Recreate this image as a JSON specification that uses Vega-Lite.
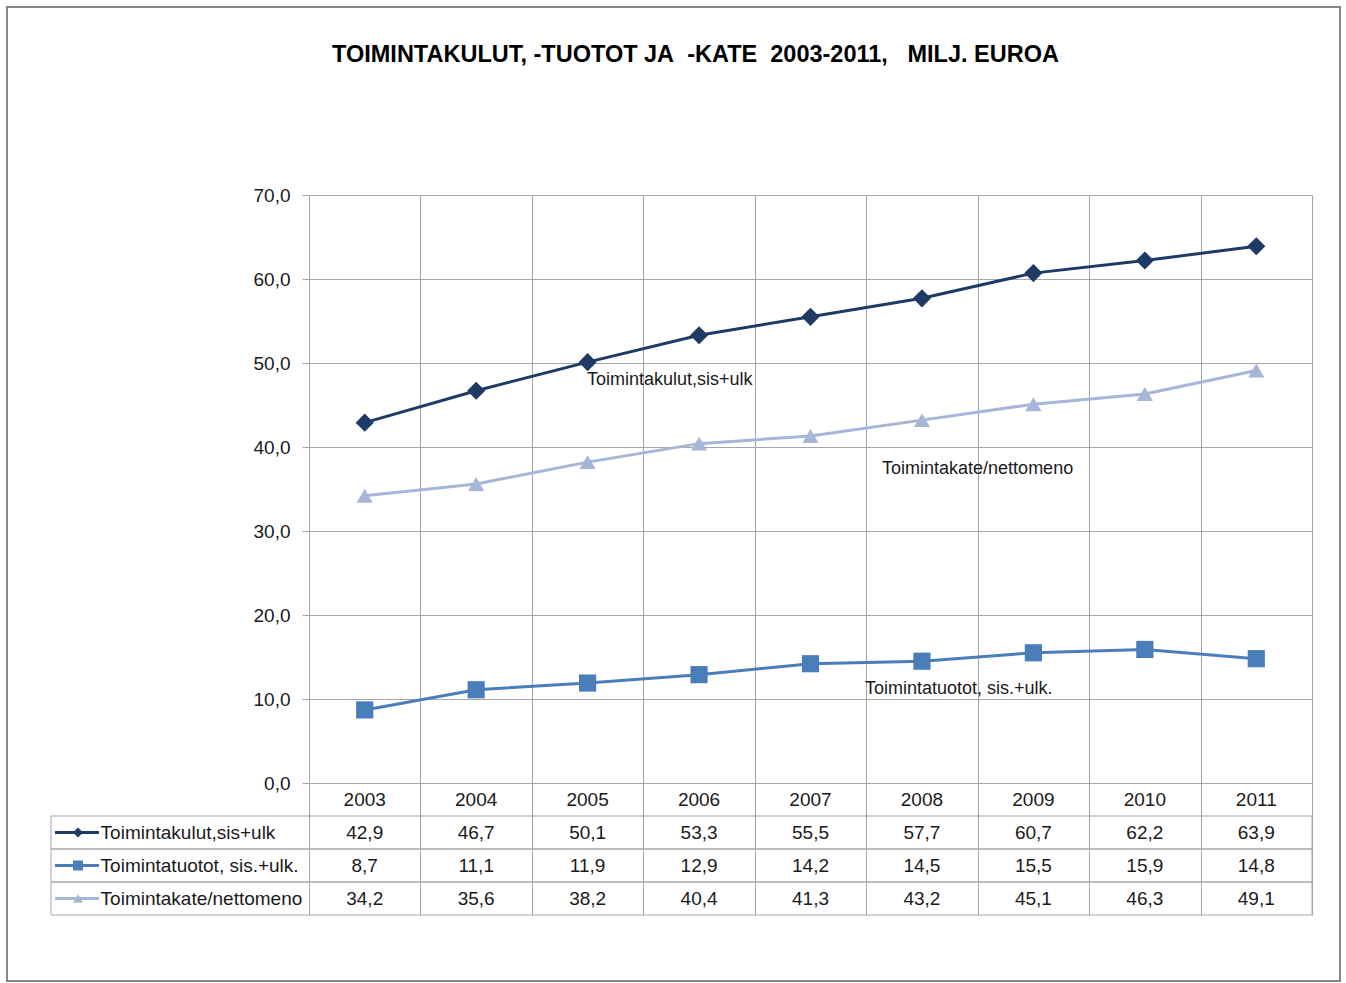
{
  "$schema": "https://vega.github.io/schema/vega-lite/v6.json",
  "padding": {"left": 5, "top": 5, "right": 0, "bottom": 0},
  "title": {
    "text": "TOIMINTAKULUT, -TUOTOT JA\u00a0 -KATE\u00a0 2003-2011,\u00a0\u00a0 MILJ. EUROA",
    "font": "Liberation Sans",
    "fontSize": 23.5,
    "fontWeight": "bold",
    "color": "#000000",
    "anchor": "middle",
    "offset": -61,
    "dx": 22
  },
  "datasets": {
    "main": [
      {"series": "Toimintakulut,sis+ulk", "year": 2003, "value": 42.9},
      {"series": "Toimintakulut,sis+ulk", "year": 2004, "value": 46.7},
      {"series": "Toimintakulut,sis+ulk", "year": 2005, "value": 50.1},
      {"series": "Toimintakulut,sis+ulk", "year": 2006, "value": 53.3},
      {"series": "Toimintakulut,sis+ulk", "year": 2007, "value": 55.5},
      {"series": "Toimintakulut,sis+ulk", "year": 2008, "value": 57.7},
      {"series": "Toimintakulut,sis+ulk", "year": 2009, "value": 60.7},
      {"series": "Toimintakulut,sis+ulk", "year": 2010, "value": 62.2},
      {"series": "Toimintakulut,sis+ulk", "year": 2011, "value": 63.9},
      {"series": "Toimintatuotot, sis.+ulk.", "year": 2003, "value": 8.7},
      {"series": "Toimintatuotot, sis.+ulk.", "year": 2004, "value": 11.1},
      {"series": "Toimintatuotot, sis.+ulk.", "year": 2005, "value": 11.9},
      {"series": "Toimintatuotot, sis.+ulk.", "year": 2006, "value": 12.9},
      {"series": "Toimintatuotot, sis.+ulk.", "year": 2007, "value": 14.2},
      {"series": "Toimintatuotot, sis.+ulk.", "year": 2008, "value": 14.5},
      {"series": "Toimintatuotot, sis.+ulk.", "year": 2009, "value": 15.5},
      {"series": "Toimintatuotot, sis.+ulk.", "year": 2010, "value": 15.9},
      {"series": "Toimintatuotot, sis.+ulk.", "year": 2011, "value": 14.8},
      {"series": "Toimintakate/nettomeno", "year": 2003, "value": 34.2},
      {"series": "Toimintakate/nettomeno", "year": 2004, "value": 35.6},
      {"series": "Toimintakate/nettomeno", "year": 2005, "value": 38.2},
      {"series": "Toimintakate/nettomeno", "year": 2006, "value": 40.4},
      {"series": "Toimintakate/nettomeno", "year": 2007, "value": 41.3},
      {"series": "Toimintakate/nettomeno", "year": 2008, "value": 43.2},
      {"series": "Toimintakate/nettomeno", "year": 2009, "value": 45.1},
      {"series": "Toimintakate/nettomeno", "year": 2010, "value": 46.3},
      {"series": "Toimintakate/nettomeno", "year": 2011, "value": 49.1}
    ],
    "legend": [
      {"series": "Toimintakulut,sis+ulk"},
      {"series": "Toimintatuotot, sis.+ulk."},
      {"series": "Toimintakate/nettomeno"}
    ],
    "notes": [
      {"note": "Toimintakulut,sis+ulk", "year": 2004.995, "value": 47.98},
      {"note": "Toimintakate/nettomeno", "year": 2007.642, "value": 37.38},
      {"note": "Toimintatuotot, sis.+ulk.", "year": 2007.489, "value": 11.19}
    ]
  },
  "spacing": 0,
  "bounds": "flush",
  "config": {
    "view": {"stroke": null},
    "font": "Liberation Sans",
    "locale": {"number": {"decimal": ",", "thousands": "\u00a0", "grouping": [3], "currency": ["", "\u00a0€"]}},
    "axis": {"gridColor": "#A6A6A6", "gridOpacity": 1, "gridWidth": 1, "tickColor": "#A6A6A6"}
  },
  "vconcat": [
    {
      "width": 1003,
      "height": 588,
      "layer": [
        {
          "data": {"values": [{"frame": 1}]},
          "mark": {"type": "rect", "fill": "transparent", "stroke": "#868686", "strokeWidth": 2},
          "encoding": {
            "x": {"datum": 1999.79, "type": "quantitative", "scale": {"domain": [2002.5, 2011.5], "nice": false, "zero": false}},
            "x2": {"datum": 2011.751},
            "y": {"datum": 92.381, "type": "quantitative", "scale": {"domain": [0, 70], "nice": false, "zero": false}},
            "y2": {"datum": -23.571}
          }
        },
        {
          "data": {"name": "main"},
          "mark": {"type": "line", "strokeWidth": 3},
          "encoding": {
            "x": {"field": "year", "type": "quantitative", "scale": {"domain": [2002.5, 2011.5], "nice": false, "zero": false},
              "axis": {"values": [2002.5, 2003.5, 2004.5, 2005.5, 2006.5, 2007.5, 2008.5, 2009.5, 2010.5, 2011.5], "grid": true, "labels": false, "ticks": false, "domain": false, "title": null}},
            "y": {"field": "value", "type": "quantitative", "scale": {"domain": [0, 70], "nice": false, "zero": false},
              "axis": {"values": [0, 10, 20, 30, 40, 50, 60, 70], "format": ".1f", "grid": true, "tickSize": 7, "domain": false, "labelFontSize": 19, "labelPadding": 12, "labelColor": "#1a1a1a", "title": null}},
            "color": {"field": "series", "type": "nominal", "scale": {"domain": ["Toimintakulut,sis+ulk", "Toimintatuotot, sis.+ulk.", "Toimintakate/nettomeno"], "range": ["#1F3A64", "#4A7EBB", "#A5B6D9"]}, "legend": null}
          }
        },
        {
          "data": {"name": "main"},
          "mark": {"type": "point", "filled": true, "opacity": 1},
          "encoding": {
            "x": {"field": "year", "type": "quantitative", "scale": {"domain": [2002.5, 2011.5], "nice": false, "zero": false}},
            "y": {"field": "value", "type": "quantitative", "scale": {"domain": [0, 70], "nice": false, "zero": false}},
            "color": {"field": "series", "type": "nominal", "legend": null},
            "shape": {"field": "series", "type": "nominal", "scale": {"domain": ["Toimintakulut,sis+ulk", "Toimintatuotot, sis.+ulk.", "Toimintakate/nettomeno"], "range": ["diamond", "square", "triangle-up"]}, "legend": null},
            "size": {"field": "series", "type": "nominal", "scale": {"domain": ["Toimintakulut,sis+ulk", "Toimintatuotot, sis.+ulk.", "Toimintakate/nettomeno"], "range": [330, 260, 380]}, "legend": null}
          }
        },
        {
          "data": {"name": "notes"},
          "mark": {"type": "text", "align": "left", "baseline": "middle", "fontSize": 18, "color": "#1a1a1a"},
          "encoding": {
            "x": {"field": "year", "type": "quantitative", "scale": {"domain": [2002.5, 2011.5], "nice": false, "zero": false}},
            "y": {"field": "value", "type": "quantitative", "scale": {"domain": [0, 70], "nice": false, "zero": false}},
            "text": {"field": "note", "type": "nominal"}
          }
        }
      ]
    },
    {
      "width": 1003,
      "height": 132,
      "layer": [
        {
          "data": {"name": "legend"},
          "mark": {"type": "rect", "fill": "transparent", "stroke": "#A6A6A6", "strokeWidth": 1},
          "encoding": {
            "x": {"datum": 2000.185, "type": "quantitative", "scale": {"domain": [2002.5, 2011.5], "nice": false, "zero": false}},
            "x2": {"datum": 2011.5},
            "y": {"field": "series", "type": "nominal", "scale": {"domain": ["Vuosi", "Toimintakulut,sis+ulk", "Toimintatuotot, sis.+ulk.", "Toimintakate/nettomeno"], "paddingInner": 0, "paddingOuter": 0}, "axis": null}
          }
        },
        {
          "data": {"name": "main"},
          "mark": {"type": "text", "fontSize": 19, "color": "#1a1a1a", "baseline": "middle"},
          "encoding": {
            "x": {"field": "year", "type": "quantitative", "scale": {"domain": [2002.5, 2011.5], "nice": false, "zero": false},
              "axis": {"values": [2002.5, 2003.5, 2004.5, 2005.5, 2006.5, 2007.5, 2008.5, 2009.5, 2010.5, 2011.5], "grid": true, "labels": false, "ticks": false, "domain": false, "title": null}},
            "y": {"field": "series", "type": "nominal", "axis": null},
            "text": {"field": "value", "type": "quantitative", "format": ".1f"}
          }
        },
        {
          "data": {"name": "main"},
          "transform": [{"filter": "datum.series === 'Toimintakulut,sis+ulk'"}],
          "mark": {"type": "text", "fontSize": 19, "color": "#1a1a1a", "baseline": "middle"},
          "encoding": {
            "x": {"field": "year", "type": "quantitative"},
            "y": {"datum": "Vuosi", "type": "nominal"},
            "text": {"field": "year", "type": "nominal"}
          }
        },
        {
          "data": {"name": "legend"},
          "mark": {"type": "rule", "strokeWidth": 3},
          "encoding": {
            "x": {"datum": 2000.221, "type": "quantitative"},
            "x2": {"datum": 2000.615},
            "y": {"field": "series", "type": "nominal"},
            "color": {"field": "series", "type": "nominal", "legend": null}
          }
        },
        {
          "data": {"name": "legend"},
          "mark": {"type": "point", "filled": true, "opacity": 1, "size": 100},
          "encoding": {
            "x": {"datum": 2000.427, "type": "quantitative"},
            "y": {"field": "series", "type": "nominal"},
            "color": {"field": "series", "type": "nominal", "legend": null},
            "shape": {"field": "series", "type": "nominal", "legend": null}
          }
        },
        {
          "data": {"name": "legend"},
          "mark": {"type": "text", "align": "left", "baseline": "middle", "fontSize": 19, "color": "#1a1a1a"},
          "encoding": {
            "x": {"datum": 2000.63, "type": "quantitative"},
            "y": {"field": "series", "type": "nominal"},
            "text": {"field": "series", "type": "nominal"}
          }
        }
      ]
    }
  ]
}
